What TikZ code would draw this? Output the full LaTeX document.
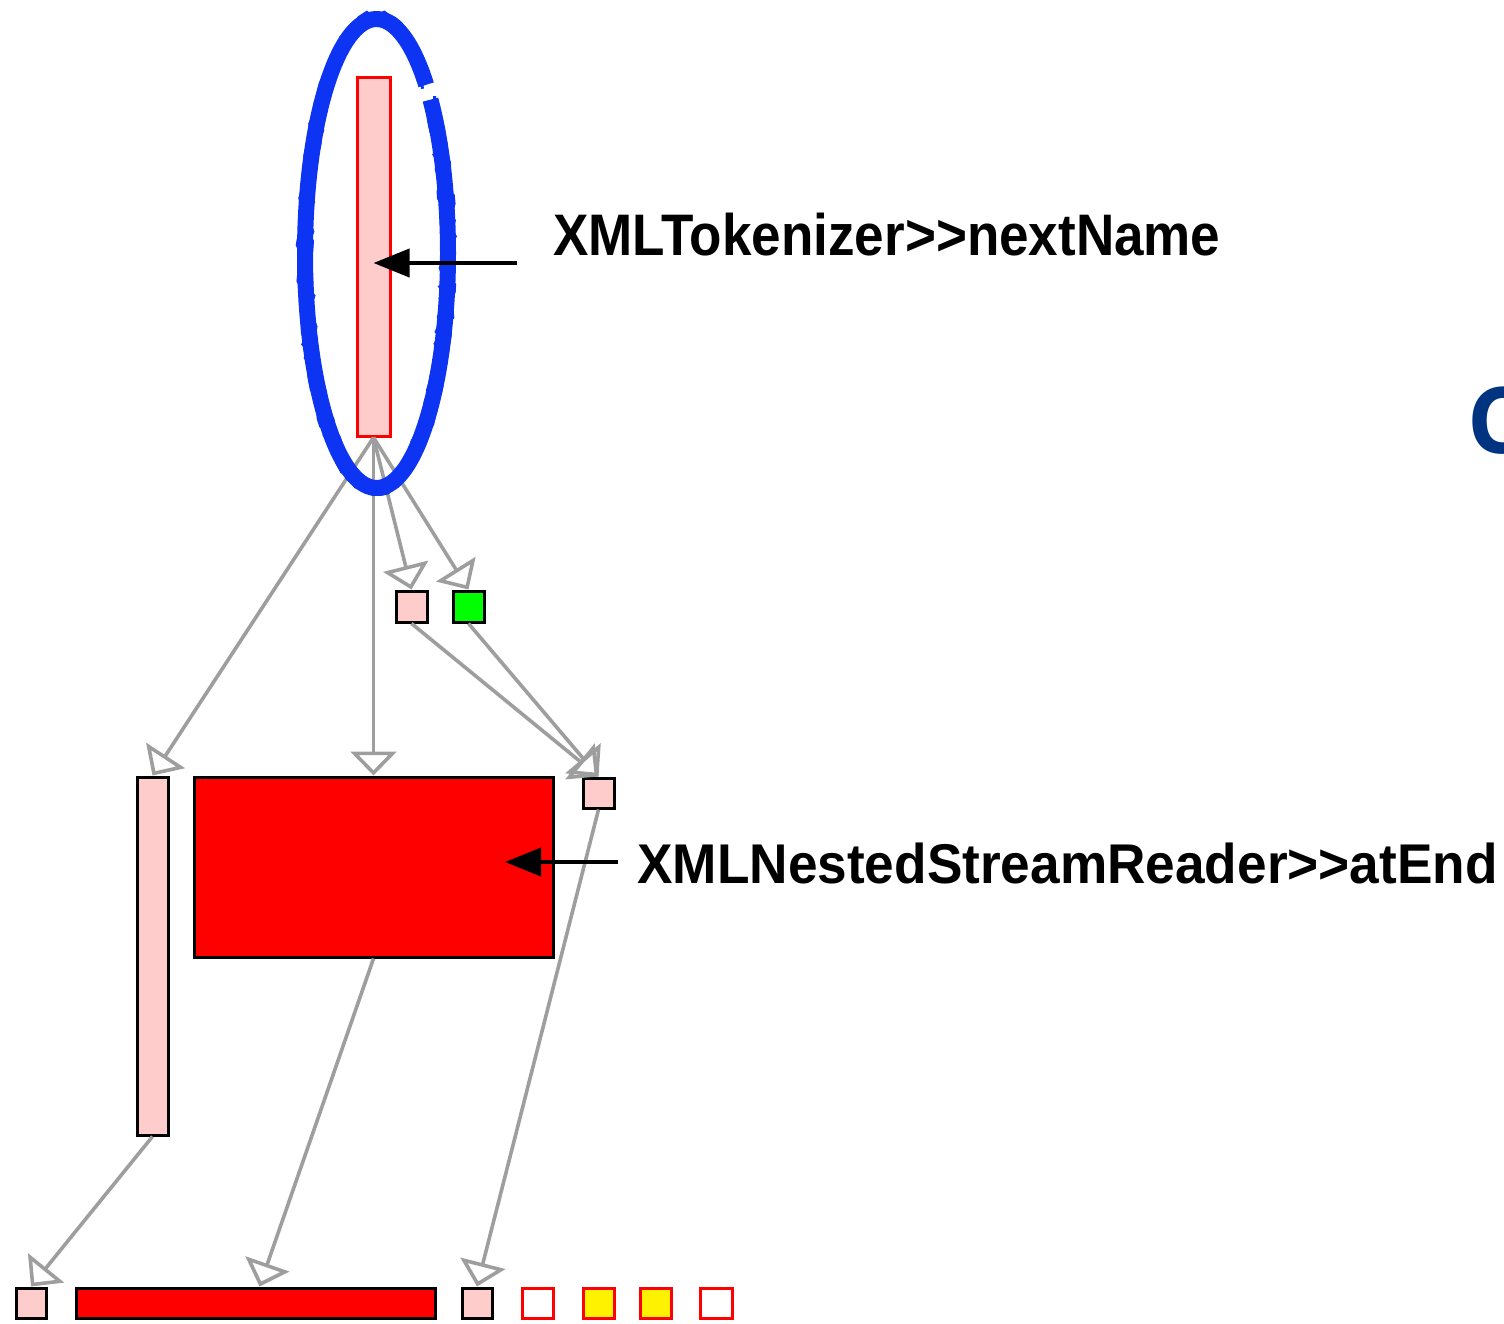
\documentclass[tikz,border=0pt]{standalone}
\usepackage{fontspec}
\usepackage{graphicx}
\usetikzlibrary{arrows.meta,decorations.pathmorphing}
\newfontfamily\labelfont{Liberation Sans}
\newfontfamily\titlefont{Open Sans}

\definecolor{pinkfill}{RGB}{255,204,204}
\definecolor{edgegray}{RGB}{158,158,158}
\definecolor{markerblue}{RGB}{12,52,242}
\definecolor{navy}{RGB}{0,51,128}
\definecolor{lime}{RGB}{0,255,0}

\tikzset{
  box/.style={rectangle, inner sep=0pt, draw=black, line width=1.5pt},
  pinkbox/.style={box, fill=pinkfill},
  redbox/.style={box, fill=red},
  greenbox/.style={box, fill=lime},
  hotbox/.style={rectangle, inner sep=0pt, draw=red, line width=1.5pt},
  sq/.style={minimum width=15.5pt, minimum height=15.5pt},
  edge/.style={draw=edgegray, line width=1.8pt,
    -{Triangle[open, length=12pt, width=23pt, line width=1.8pt]}},
  pointer/.style={draw=black, line width=2pt,
    -{Triangle[length=18pt, width=14pt]}},
  callout/.style={inner sep=0pt, anchor=base west, text=black},
  marker/.style={draw=markerblue, line width=8pt, line cap=butt},
  markergrain/.style={draw=markerblue, line width=1.5pt,
    decorate, decoration={random steps, segment length=3pt, amplitude=1.2pt}}
}

\begin{document}
\begin{tikzpicture}[x=0.5pt, y=-0.5pt]
  \useasboundingbox (0,0) rectangle (1504,1323);
  \clip (0,0) rectangle (1504,1323);

  % hot method highlighted at the top
  \node[hotbox, fill=pinkfill, minimum width=16.5pt, minimum height=179.5pt] (top) at (373.5,256.5) {};

  % first level callees
  \node[pinkbox, sq] (sqa) at (411.5,606.5) {};
  \node[greenbox, sq] (sqb) at (468.5,606.5) {};

  % second level
  \node[pinkbox, minimum width=15.5pt, minimum height=179pt] (leftbar) at (152.5,956) {};
  \node[redbox, minimum width=179.5pt, minimum height=90pt] (big) at (373.5,867) {};
  \node[pinkbox, minimum width=15.5pt, minimum height=15pt] (sqc) at (598.5,793) {};

  % bottom row
  \node[pinkbox, minimum width=15pt, minimum height=15pt] (b1) at (31,1303) {};
  \node[redbox, minimum width=179.5pt, minimum height=15pt] (b2) at (255.5,1303) {};
  \node[pinkbox, minimum width=15pt, minimum height=15pt] (b3) at (477,1303) {};
  \node[hotbox, fill=white, minimum width=15.5pt, minimum height=15pt] (b4) at (537.5,1303) {};
  \node[hotbox, fill=yellow, minimum width=15.5pt, minimum height=15pt] (b5) at (598.5,1303) {};
  \node[hotbox, fill=yellow, minimum width=15.5pt, minimum height=15pt] (b6) at (655.5,1303) {};
  \node[hotbox, fill=white, minimum width=16pt, minimum height=15pt] (b7) at (716,1303) {};

  % call edges
  \draw[edge] (top.south) -- (leftbar.north);
  \draw[edge] (top.south) -- (big.north);
  \draw[edge] (top.south) -- (sqa.north);
  \draw[edge] (top.south) -- (sqb.north);
  \draw[edge] (sqa.south) -- (sqc.north);
  \draw[edge] (sqb.south) -- (sqc.north);
  \draw[edge] (leftbar.south) -- (b1.north);
  \draw[edge] (big.south) -- ([xshift=2pt]b2.north);
  \draw[edge] (sqc.south) -- (b3.north);

  % hand-drawn marker ring round the top method, open at the upper right
  \coordinate (ring) at (376.5,253.5);
  \draw[marker] (ring) ++(-41:71.5 and 234.5)
    arc[start angle=-41, end angle=314, x radius=71.5, y radius=234.5];
  \draw[markergrain] (ring) ++(-41:77 and 240)
    arc[start angle=-41, end angle=314, x radius=77, y radius=240];
  \draw[markergrain] (ring) ++(-41:66 and 229)
    arc[start angle=-41, end angle=314, x radius=66, y radius=229];

  % callouts
  \node[callout] (lbl1) at (553,255)
    {\labelfont\bfseries\fontsize{29.3pt}{32pt}\selectfont\scalebox{0.905}[1]{XMLTokenizer>{}>nextName}};
  \coordinate (p1) at (517,263);
  \draw[pointer] (p1) -- (top.center |- p1);

  \node[callout] (lbl2) at (637,883)
    {\labelfont\bfseries\fontsize{28pt}{31pt}\selectfont\scalebox{0.95}[1]{XMLNestedStreamReader>{}>atEnd}};
  \coordinate (p2) at (618,862);
  \draw[pointer] (p2) -- (505,862);

  % heading letter running off the right edge
  \node[inner sep=0pt, anchor=base west, text=navy] (head) at (1467,453)
    {\titlefont\bfseries\fontsize{46pt}{50pt}\selectfont C};
\end{tikzpicture}
\end{document}
